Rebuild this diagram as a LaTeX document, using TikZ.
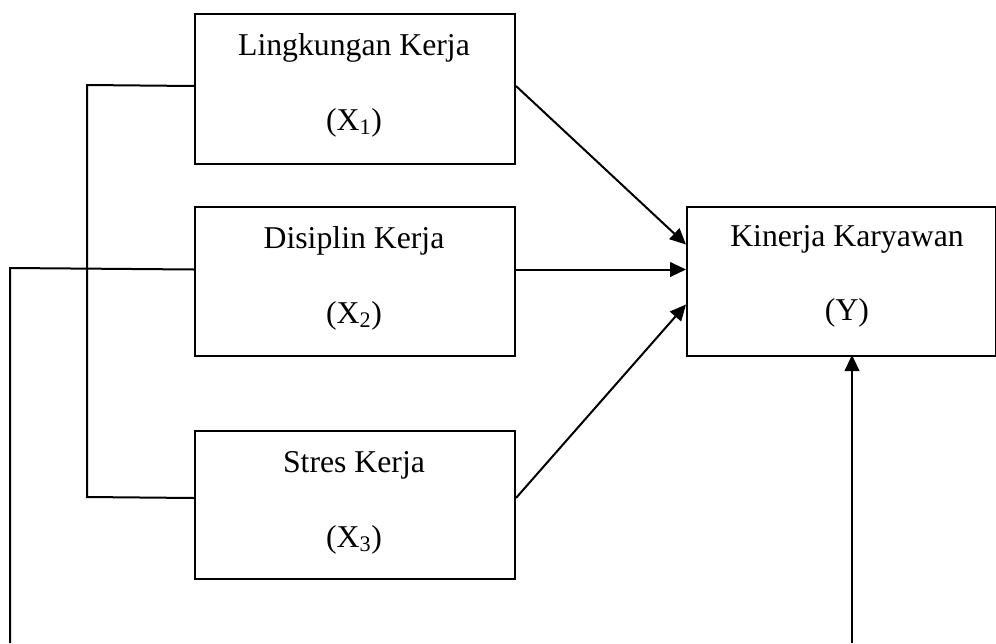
\documentclass[tikz,border=0pt]{standalone}
\usepackage{fontspec}
\setmainfont{Liberation Serif}
\usetikzlibrary{arrows.meta}
\begin{document}
\begin{tikzpicture}[x=0.75pt,y=-0.75pt,
  box/.style={draw,line width=1.5pt,rectangle,inner sep=0pt,anchor=north west},
  lbl/.style={anchor=base,inner sep=0pt,font=\fontsize{23.8}{28}\selectfont},
  conn/.style={line width=1.5pt},
  arr/.style={line width=1.5pt,-{Triangle[length=12pt,width=11pt]}}]
\useasboundingbox (0,0) rectangle (996,643);
% boxes
\node[box,minimum width=320*0.75pt,minimum height=150*0.75pt] (x1) at (194,13) {};
\node[box,minimum width=320*0.75pt,minimum height=149*0.75pt] (x2) at (194,206) {};
\node[box,minimum width=320*0.75pt,minimum height=148*0.75pt] (x3) at (194,430) {};
\node[box,minimum width=309*0.75pt,minimum height=149*0.75pt] (y) at (686,206) {};
% labels
\node[lbl] (x1a) at (354,55) {Lingkungan Kerja};
\node[lbl] (x1b) at (354,130) {(X\textsubscript{1})};
\node[lbl] (x2a) at (354,248) {Disiplin Kerja};
\node[lbl] (x2b) at (354,323) {(X\textsubscript{2})};
\node[lbl] (x3a) at (354,472) {Stres Kerja};
\node[lbl] (x3b) at (354,547) {(X\textsubscript{3})};
\node[lbl] (ya) at (847,246) {Kinerja Karyawan};
\node[lbl] (yb) at (847,320) {(Y)};
% arrows to Y
\draw[arr] ([yshift=3*0.75pt]x1.east) -- ([yshift=37*0.75pt]y.west);
\draw[arr] ([yshift=12*0.75pt]x2.east) -- ([yshift=12*0.75pt]y.west);
\draw[arr] ([yshift=7*0.75pt]x3.east) -- ([yshift=-23*0.75pt]y.west);
% bracket X1 - X3
\coordinate (b1) at (87,85);
\coordinate (b2) at (87,497);
\draw[conn] ([yshift=3*0.75pt]x1.west) -- (b1) -- (b2) -- ([yshift=7*0.75pt]x3.west);
% X2 to bottom
\coordinate (l1) at (10,268);
\coordinate (l2) at (10,643);
\draw[conn] ([yshift=12*0.75pt]x2.west) -- (l1) -- (l2);
% bottom to Y
\coordinate (r1) at (852,643);
\draw[arr] (r1) -- (852,355) coordinate (ys);
\end{tikzpicture}
\end{document}
